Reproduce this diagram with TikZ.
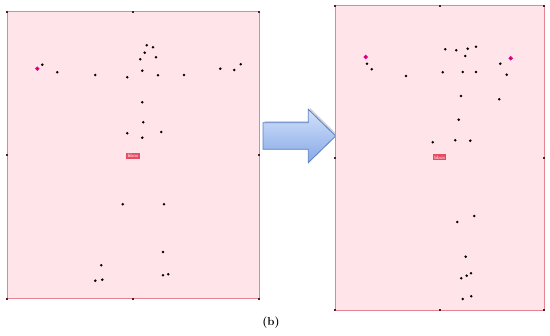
\documentclass[tikz,border=0pt]{standalone}
\usetikzlibrary{shadows}
\definecolor{boxfill}{HTML}{FFE5E9}
\definecolor{boxline}{HTML}{E58494}
\definecolor{handle}{HTML}{4A1E22}
\definecolor{tagred}{HTML}{E84A62}
\definecolor{arrowtop}{HTML}{D3E2FB}
\definecolor{arrowbot}{HTML}{86A8E6}
\definecolor{arrowline}{HTML}{5A7FC8}
\begin{document}
\begin{tikzpicture}
[x=1pt, y=-1pt, font=\small]
\tikzstyle{kp}=[circle, fill=black, inner sep=0mm, minimum size=2.8pt]
\tikzstyle{root}=[circle, fill=black, draw=magenta, line width=1.2pt, inner sep=0mm, minimum size=3pt]
\tikzstyle{hdl}=[rectangle, fill=handle, inner sep=0mm, minimum size=2pt]
\tikzstyle{tag}=[fill=tagred, text=white, inner sep=1.4pt, font=\fontsize{5}{5.5}\sffamily]
\tikzstyle{bbox}=[draw=boxline, fill=boxfill, line width=1pt]
\useasboundingbox (0,0) rectangle (550,336);

% left box
\draw[bbox] (7,12) rectangle (259,299);
\node[hdl] (LTl) at (7,12) {};
\node[hdl] (LTm) at (133,12) {};
\node[hdl] (LTr) at (259,12) {};
\node[hdl] (LMl) at (7,155.5) {};
\node[hdl] (LMr) at (259,155.5) {};
\node[hdl] (LBl) at (7,299) {};
\node[hdl] (LBm) at (133,299) {};
\node[hdl] (LBr) at (259,299) {};
\node[tag] (Ltag) at (133,155.7) {bbox};

\node[root] (L0)  at (37.3,68.7) {};
\node[kp]   (L1)  at (42.3,64.7) {};
\node[kp]   (L2)  at (57.3,72.3) {};
\node[kp]   (L3)  at (95.3,75) {};
\node[kp]   (L4)  at (127.3,77.3) {};
\node[kp]   (L5)  at (142.3,70.7) {};
\node[kp]   (L6)  at (158,75.3) {};
\node[kp]   (L7)  at (184,75) {};
\node[kp]   (L8)  at (220.3,68.7) {};
\node[kp]   (L9)  at (234.3,70) {};
\node[kp]   (L10) at (240.7,64.3) {};
\node[kp]   (L11) at (146.7,45.3) {};
\node[kp]   (L12) at (153,47.3) {};
\node[kp]   (L13) at (144.7,52.7) {};
\node[kp]   (L14) at (156,57.3) {};
\node[kp]   (L15) at (140.3,59.3) {};
\node[kp]   (L16) at (142.3,102.3) {};
\node[kp]   (L17) at (143.3,122.3) {};
\node[kp]   (L18) at (127.3,133.3) {};
\node[kp]   (L19) at (142.3,137.7) {};
\node[kp]   (L20) at (161.3,132) {};
\node[kp]   (L21) at (122.7,204.3) {};
\node[kp]   (L22) at (164,204.3) {};
\node[kp]   (L23) at (163,252) {};
\node[kp]   (L24) at (101.3,265.3) {};
\node[kp]   (L25) at (95.3,280.7) {};
\node[kp]   (L26) at (102.3,279.7) {};
\node[kp]   (L27) at (163,275.3) {};
\node[kp]   (L28) at (168.3,274.3) {};

% arrow
\draw[arrowline, line width=0.8pt, top color=arrowtop, bottom color=arrowbot,
      drop shadow={opacity=0.35, shadow xshift=1.5pt, shadow yshift=1.5pt}]
  (263,122.7) -- (308.3,122.7) -- (308.3,109.3) -- (335.7,136)
  -- (308.3,162.7) -- (308.3,149.3) -- (263,149.3) -- cycle;

% right box
\draw[bbox] (335,5.7) rectangle (544.3,310.3);
\node[hdl] (RTl) at (335,5.7) {};
\node[hdl] (RTm) at (439.7,5.7) {};
\node[hdl] (RTr) at (544.3,5.7) {};
\node[hdl] (RMl) at (335,158) {};
\node[hdl] (RMr) at (544.3,158) {};
\node[hdl] (RBl) at (335,310.3) {};
\node[hdl] (RBm) at (439.7,310.3) {};
\node[hdl] (RBr) at (544.3,310.3) {};
\node[tag] (Rtag) at (439.7,157.3) {bbox};

\node[root] (R0)  at (365.7,57) {};
\node[kp]   (R1)  at (367,63.7) {};
\node[kp]   (R2)  at (371.7,69.3) {};
\node[kp]   (R3)  at (406,76) {};
\node[kp]   (R4)  at (445.3,49.3) {};
\node[kp]   (R5)  at (456.3,50.3) {};
\node[kp]   (R6)  at (467.7,48.7) {};
\node[kp]   (R7)  at (476,46.7) {};
\node[kp]   (R8)  at (465.3,56) {};
\node[kp]   (R9)  at (442.7,72.3) {};
\node[kp]   (R10) at (462.7,72) {};
\node[kp]   (R11) at (476,72) {};
\node[root] (R12) at (510.7,58.3) {};
\node[kp]   (R13) at (500.3,63.7) {};
\node[kp]   (R14) at (506.7,74.7) {};
\node[kp]   (R15) at (461,96) {};
\node[kp]   (R16) at (499.3,99.3) {};
\node[kp]   (R17) at (458.7,119.7) {};
\node[kp]   (R18) at (432.7,142.3) {};
\node[kp]   (R19) at (455.3,140.3) {};
\node[kp]   (R20) at (470.3,140.7) {};
\node[kp]   (R21) at (474.3,216) {};
\node[kp]   (R22) at (457.3,222) {};
\node[kp]   (R23) at (465.7,256.7) {};
\node[kp]   (R24) at (471,273.3) {};
\node[kp]   (R25) at (466.7,275.7) {};
\node[kp]   (R26) at (461.3,278.3) {};
\node[kp]   (R27) at (471.3,296.3) {};
\node[kp]   (R28) at (462.7,299) {};

\node[font=\fontsize{11.5}{13}\selectfont\bfseries] (cap) at (271,322.5) {(b)};
\end{tikzpicture}
\end{document}
